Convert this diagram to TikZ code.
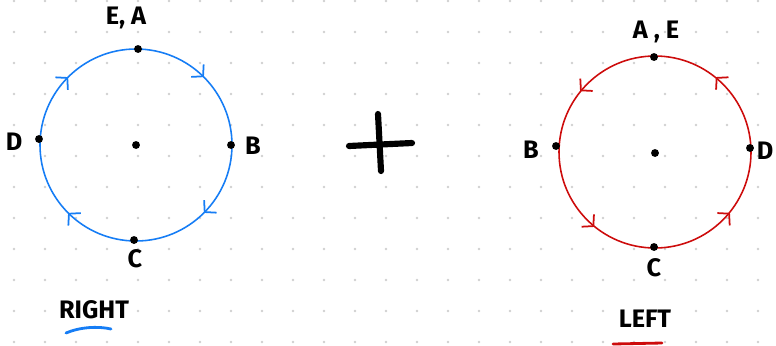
\documentclass[tikz,border=0pt]{standalone}
\usepackage{fontspec}
\setmainfont{Fira Sans}
\definecolor{rightblue}{RGB}{22, 125, 245}
\definecolor{leftred}{RGB}{205, 12, 12}
\definecolor{griddot}{RGB}{208, 208, 208}
\usetikzlibrary{arrows.meta, decorations.markings}

\begin{document}
\begin{tikzpicture}[x=0.02cm, y=-0.02cm,
  >={Straight Barb[length=4.5pt, width=10pt]},
  lbl/.style={font=\bfseries\Large, inner sep=1pt},
  pt/.style={circle, fill=black, inner sep=0pt, minimum size=4.5pt},
  ring/.style={line width=0.9pt, postaction={decorate}},
  cw/.style={ring, decoration={markings, mark=between positions 0.125 and 0.875 step 0.25 with {\arrow[line width=1pt]{>}}}},
  ccw/.style={ring, decoration={markings, mark=between positions 0.125 and 0.875 step 0.25 with {\arrow[line width=1pt]{<}}}}]

\useasboundingbox (0,0) rectangle (776,345);

% === Dot grid ===
\foreach \i in {0,...,24}
  \foreach \j in {0,...,11}
    \fill[griddot] (14+31*\i, 1+31*\j) circle (1.4);

% === Right (clockwise) ===
\draw[cw, rightblue] (136,145) circle (96);
\node[pt] (rO) at (136,145) {};
\node[pt] (rEA) at (138,49) {};
\node[pt] (rB) at (231,145) {};
\node[pt] (rC) at (134,240) {};
\node[pt] (rD) at (39,139) {};
\node[lbl] (rEAlbl) at (126,18) {E, A};
\node[lbl] (rBlbl) at (253,146) {B};
\node[lbl] (rClbl) at (135,259) {C};
\node[lbl] (rDlbl) at (14,142) {D};
\node[lbl] (rightlbl) at (94,310) {RIGHT};
\draw[rightblue, line width=1.6pt, line cap=round] (66,333) .. controls (80,327) and (98,326) .. (111,329);

% === Plus ===
\draw[line width=3.5pt, line cap=round] (349,146) -- (412,143);
\draw[line width=3.5pt, line cap=round] (378,114) -- (381,171);

% === Left (counter-clockwise) ===
\draw[ccw, leftred] (655,152) circle (96);
\node[pt] (lO) at (655,153) {};
\node[pt] (lAE) at (654,57) {};
\node[pt] (lB) at (556,146) {};
\node[pt] (lC) at (654,247) {};
\node[pt] (lD) at (750,148) {};
\node[lbl] (lAElbl) at (656,32) {A , E};
\node[lbl] (lBlbl) at (531,150) {B};
\node[lbl] (lClbl) at (654,268) {C};
\node[lbl] (lDlbl) at (765,151) {D};
\node[lbl] (leftlbl) at (645,319) {LEFT};
\draw[leftred, line width=1.6pt, line cap=round] (613,344) -- (662,343);

\end{tikzpicture}
\end{document}
